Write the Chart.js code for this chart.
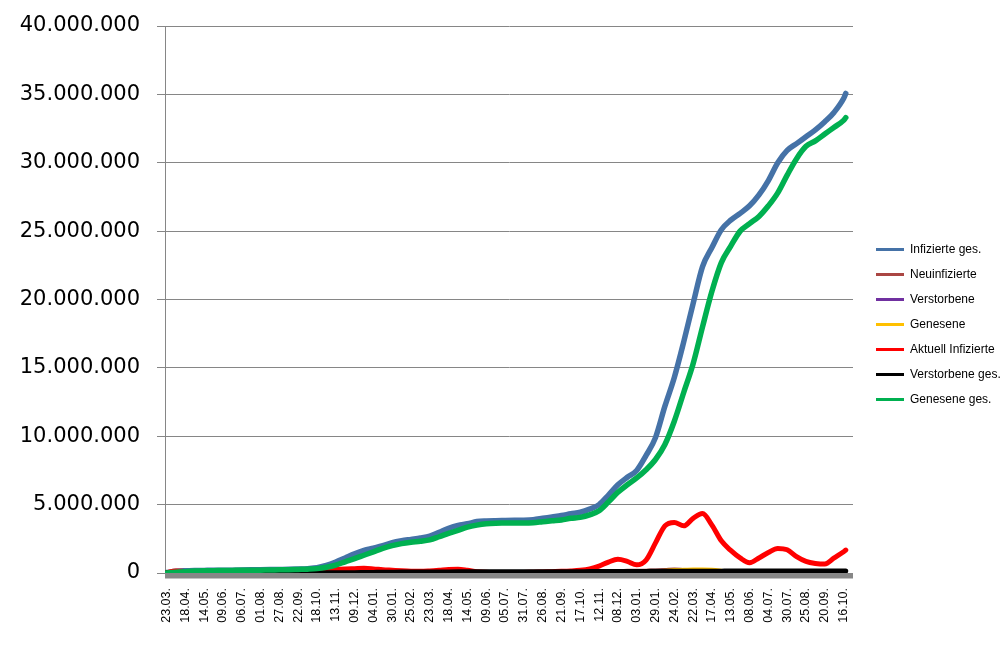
<!DOCTYPE html>
<html lang="de">
<head>
<meta charset="utf-8">
<title>Corona Verlauf</title>
<script src="https://cdn.jsdelivr.net/npm/chart.js@4.4.1/dist/chart.umd.min.js"></script>
<style>
  html, body { margin: 0; padding: 0; background: #fff; }
  #wrap { width: 1005px; height: 651px; }
</style>
</head>
<body>
<div id="wrap"><canvas id="chart" width="1005" height="651"></canvas></div>
<script>
// tick labels of the category axis (one every 26 days)
const dateLabels = ['23.03.', '18.04.', '14.05.', '09.06.', '06.07.', '01.08.', '27.08.', '22.09.', '18.10.', '13.11.',
  '09.12.', '04.01.', '30.01.', '25.02.', '23.03.', '18.04.', '14.05.', '09.06.', '05.07.', '31.07.',
  '26.08.', '21.09.', '17.10.', '12.11.', '08.12.', '03.01.', '29.01.', '24.02.', '22.03.', '17.04.',
  '13.05.', '08.06.', '04.07.', '30.07.', '25.08.', '20.09.', '16.10.'];
const tickDays = [0, 26, 52, 78, 104, 130, 156, 182, 208, 234, 260, 286, 312, 338, 364, 390, 416, 442, 468, 494,
  520, 546, 572, 598, 624, 650, 676, 702, 728, 754, 780, 806, 832, 858, 884, 910, 936];

const sampleDays = [0, 13, 26, 39, 52, 65, 78, 91, 104, 117, 130, 143, 156, 169, 182, 195, 208, 221, 234, 247,
  260, 273, 286, 299, 312, 325, 338, 351, 364, 377, 390, 403, 416, 429, 442, 455, 468, 481, 494, 507,
  520, 533, 546, 559, 572, 585, 598, 611, 624, 637, 650, 663, 676, 689, 702, 715, 728, 741, 754, 767,
  780, 793, 806, 819, 832, 845, 858, 871, 884, 897, 910, 923, 936, 939];

// values in millions
const infizierteGes = [0.03, 0.12, 0.16, 0.18, 0.19, 0.2, 0.2, 0.21, 0.22, 0.23, 0.24, 0.25, 0.26, 0.27, 0.29, 0.32, 0.38, 0.55, 0.8, 1.1,
  1.4, 1.65, 1.82, 2.0, 2.22, 2.36, 2.46, 2.56, 2.7, 2.98, 3.27, 3.48, 3.6, 3.76, 3.81, 3.83, 3.84, 3.85, 3.86, 3.9,
  4.0, 4.1, 4.2, 4.33, 4.44, 4.67, 5.0, 5.7, 6.45, 7.0, 7.5, 8.6, 9.9, 12.2, 14.3, 16.9, 19.7, 22.4, 23.8, 25.1,
  25.8, 26.3, 26.85, 27.65, 28.7, 30.0, 30.9, 31.4, 31.9, 32.4, 33.0, 33.7, 34.7, 35.07];
const neuinfizierte = [0.004, 0.002, 0.001, 0.0005, 0.0005, 0.0005, 0.001, 0.001, 0.001, 0.002, 0.005, 0.01, 0.02, 0.02, 0.02, 0.015, 0.02, 0.025, 0.02, 0.01,
  0.008, 0.008, 0.01, 0.015, 0.02, 0.02, 0.015, 0.01, 0.005, 0.002, 0.001, 0.001, 0.001, 0.002, 0.004, 0.008, 0.01, 0.01, 0.012, 0.015,
  0.02, 0.03, 0.05, 0.06, 0.04, 0.03, 0.04, 0.08, 0.15, 0.2, 0.2, 0.21, 0.22, 0.25, 0.3, 0.25, 0.2, 0.15, 0.1, 0.08,
  0.05, 0.05, 0.07, 0.1, 0.12, 0.1, 0.08, 0.05, 0.04, 0.05, 0.08, 0.12, 0.12, 0.12];
const verstorbene = [0.0001, 0.0002, 0.0002, 0.0001, 0.0001, 0.0, 0.0, 0.0, 0.0, 0.0, 0.0001, 0.0001, 0.0002, 0.0003, 0.0004, 0.0005, 0.0006, 0.0008, 0.001, 0.001,
  0.0008, 0.0007, 0.0006, 0.0005, 0.0004, 0.0003, 0.0003, 0.0002, 0.0002, 0.0001, 0.0001, 0.0001, 0.0001, 0.0001, 0.0001, 0.0001, 0.0001, 0.0001, 0.0001, 0.0002,
  0.0002, 0.0003, 0.0004, 0.0004, 0.0003, 0.0003, 0.0003, 0.0003, 0.0003, 0.0003, 0.0003, 0.0003, 0.0003, 0.0002, 0.0002, 0.0002, 0.0002, 0.0001, 0.0001, 0.0001,
  0.0001, 0.0001, 0.0001, 0.0001, 0.0001, 0.0001, 0.0001, 0.0001, 0.0001, 0.0001, 0.0001, 0.0001, 0.0001, 0.0001];
const genesene = [0.0, 0.002, 0.003, 0.002, 0.001, 0.0005, 0.0005, 0.0005, 0.001, 0.001, 0.002, 0.004, 0.01, 0.015, 0.018, 0.016, 0.015, 0.02, 0.022, 0.015,
  0.01, 0.008, 0.008, 0.012, 0.016, 0.018, 0.016, 0.012, 0.008, 0.004, 0.002, 0.001, 0.001, 0.001, 0.003, 0.006, 0.008, 0.01, 0.01, 0.012,
  0.016, 0.025, 0.04, 0.05, 0.045, 0.035, 0.035, 0.05, 0.08, 0.1, 0.08, 0.1, 0.15, 0.2, 0.25, 0.27, 0.3, 0.3, 0.28, 0.2,
  0.1, 0.07, 0.05, 0.05, 0.08, 0.1, 0.1, 0.08, 0.05, 0.04, 0.05, 0.06, 0.1, 0.1];
const aktuellInfizierte = [0.03, 0.15, 0.1, 0.05, 0.02, 0.01, 0.01, 0.01, 0.01, 0.01, 0.02, 0.02, 0.02, 0.02, 0.03, 0.05, 0.1, 0.18, 0.26, 0.3,
  0.32, 0.34, 0.3, 0.24, 0.2, 0.16, 0.13, 0.12, 0.15, 0.2, 0.26, 0.27, 0.2, 0.1, 0.05, 0.03, 0.02, 0.02, 0.04, 0.06,
  0.08, 0.1, 0.12, 0.15, 0.2, 0.3, 0.5, 0.8, 1.0, 0.85, 0.6, 0.95, 2.2, 3.45, 3.7, 3.45, 4.0, 4.35, 3.5, 2.35,
  1.65, 1.1, 0.75, 1.1, 1.5, 1.8, 1.7, 1.2, 0.85, 0.7, 0.65, 1.1, 1.55, 1.68];
const verstorbeneGes = [0.0, 0.003, 0.007, 0.008, 0.009, 0.009, 0.009, 0.009, 0.009, 0.01, 0.01, 0.01, 0.01, 0.01, 0.01, 0.01, 0.01, 0.012, 0.015, 0.02,
  0.025, 0.035, 0.045, 0.055, 0.062, 0.068, 0.07, 0.073, 0.075, 0.078, 0.082, 0.085, 0.088, 0.09, 0.09, 0.091, 0.091, 0.092, 0.092, 0.093,
  0.094, 0.095, 0.096, 0.097, 0.099, 0.101, 0.104, 0.108, 0.11, 0.113, 0.116, 0.118, 0.12, 0.122, 0.125, 0.127, 0.129, 0.132, 0.135, 0.137,
  0.139, 0.14, 0.141, 0.142, 0.143, 0.144, 0.145, 0.146, 0.147, 0.148, 0.149, 0.15, 0.151, 0.151];
const geneseneGes = [0.0, 0.05, 0.1, 0.14, 0.16, 0.17, 0.18, 0.19, 0.2, 0.2, 0.21, 0.22, 0.23, 0.24, 0.26, 0.28, 0.32, 0.42, 0.58, 0.82,
  1.05, 1.3, 1.55, 1.8, 2.0, 2.15, 2.25, 2.32, 2.42, 2.65, 2.9, 3.12, 3.35, 3.5, 3.6, 3.64, 3.65, 3.66, 3.66, 3.68,
  3.75, 3.82, 3.88, 4.0, 4.07, 4.25, 4.55, 5.2, 5.9, 6.45, 6.95, 7.55, 8.3, 9.4, 11.1, 13.2, 15.3, 18.0, 20.6, 22.7,
  23.9, 25.0, 25.55, 26.07, 26.85, 27.8, 29.1, 30.3, 31.2, 31.6, 32.1, 32.6, 33.1, 33.3];

const seriesNames = ['Infizierte ges.', 'Neuinfizierte', 'Verstorbene', 'Genesene', 'Aktuell Infizierte', 'Verstorbene ges.', 'Genesene ges.'];
const seriesValues = [infizierteGes, neuinfizierte, verstorbene, genesene, aktuellInfizierte, verstorbeneGes, geneseneGes];
const seriesColors = ['#4572A7', '#AA4643', '#7030A0', '#FFC000', '#FF0000', '#000000', '#00B050'];
const seriesWidths = [5.5, 3, 3, 3, 5, 5, 5.5];

const toPoints = vals => sampleDays.map((d, i) => ({ x: d, y: vals[i] * 1e6 }));

// Excel draws later series on top, Chart.js the other way round -> reverse via order
const datasets = seriesNames.map((name, i) => ({
  label: name,
  data: toPoints(seriesValues[i]),
  borderColor: seriesColors[i],
  backgroundColor: seriesColors[i],
  borderWidth: seriesWidths[i],
  borderCapStyle: 'round',
  borderJoinStyle: 'round',
  pointRadius: 0,
  cubicInterpolationMode: 'monotone',
  order: seriesNames.length - i,
}));

const thousands = v => String(Math.round(v)).replace(/\B(?=(\d{3})+(?!\d))/g, '.');

// the thick grey floor under the plot area
const floorBand = {
  id: 'floorBand',
  afterDatasetsDraw(chart) {
    const { ctx, chartArea } = chart;
    ctx.save();
    ctx.fillStyle = '#878787';
    ctx.fillRect(chartArea.left, chartArea.bottom, chartArea.right - chartArea.left, 5.5);
    ctx.restore();
  }
};

new Chart(document.getElementById('chart'), {
  type: 'line',
  data: { datasets },
  options: {
    responsive: false,
    animation: false,
    layout: { padding: { top: 26, right: 0, bottom: 28, left: 0 } },
    scales: {
      x: {
        type: 'linear',
        min: -2,
        max: 949,
        afterBuildTicks: axis => { axis.ticks = tickDays.map(v => ({ value: v })); },
        afterFit: axis => { axis.height = 50; axis.paddingLeft = 0; axis.paddingRight = 0; },
        ticks: {
          autoSkip: false,
          minRotation: 90,
          maxRotation: 90,
          padding: 15,
          color: '#000',
          font: { family: 'Liberation Sans', size: 12.5 },
          callback: (v, i) => dateLabels[i],
        },
        grid: { display: false, drawTicks: false },
        border: { display: false },
      },
      y: {
        min: 0,
        max: 40000000,
        ticks: {
          stepSize: 5000000,
          padding: 17,
          color: '#000',
          font: { family: 'DejaVu Sans', size: 21 },
          callback: v => thousands(v),
        },
        grid: { color: '#868686', tickLength: 8 },
        border: { color: '#868686' },
        afterFit: axis => { axis.width = 165; axis.paddingTop = 0; axis.paddingBottom = 0; },
      },
      // empty spacer between plot area and legend
      gap: {
        position: 'right',
        display: true,
        ticks: { display: false },
        grid: { display: false, drawTicks: false },
        border: { display: false },
        afterFit: axis => { axis.width = 10; axis.paddingTop = 0; axis.paddingBottom = 0; },
      },
    },
    plugins: {
      tooltip: { enabled: false },
      legend: {
        position: 'right',
        maxWidth: 142,
        labels: {
          usePointStyle: true,
          pointStyle: 'line',
          pointStyleWidth: 28,
          padding: 13,
          color: '#000',
          font: { family: 'Liberation Sans', size: 12 },
          sort: (a, b) => a.datasetIndex - b.datasetIndex,
          generateLabels: chart => Chart.defaults.plugins.legend.labels.generateLabels(chart)
            .map(item => ({ ...item, lineWidth: 3 })),
        },
      },
    },
  },
  plugins: [floorBand],
});
</script>
</body>
</html>
